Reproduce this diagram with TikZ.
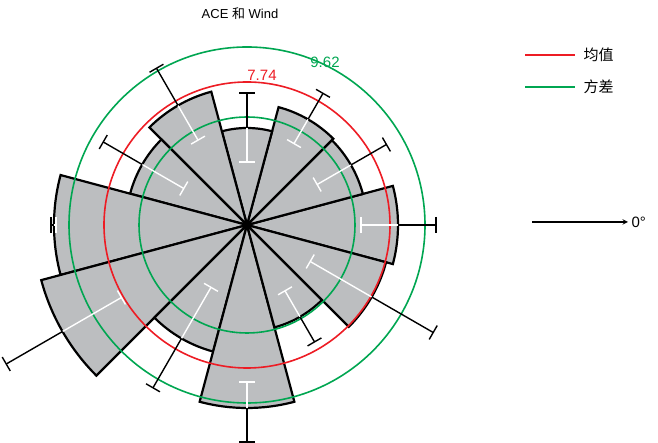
\documentclass[tikz,border=0pt]{standalone}
\usepackage{fontspec}
\setmainfont{Liberation Sans}
\newfontfamily\cjk{Noto Sans CJK SC}
\usetikzlibrary{calc}
\definecolor{meanred}{HTML}{ED1C24}
\definecolor{stdgreen}{HTML}{00A651}
\definecolor{barfill}{HTML}{BCBEC0}
\begin{document}
\begin{tikzpicture}[x=1pt,y=1pt,>=stealth,
  wedge/.style={fill=barfill,draw=black,line width=2.2pt,line join=miter},
  ring/.style={line width=1.6pt},
  errbar/.style={line width=1.4pt}]
\useasboundingbox (0,0) rectangle (658,443);
\node (title) at (240,429) {\fontsize{13}{15}\selectfont ACE \cjk 和\rmfamily{} Wind};
% wedges
\begin{scope}[shift={(247,218)}]
\foreach \a/\r in {0/151,30/120,60/122,90/97,120/138,150/121,180/193,210/213,240/131,270/183,300/106,330/144}
  \draw[wedge] (0,0) -- (\a-15:\r) arc[start angle=\a-15,end angle=\a+15,radius=\r] -- cycle;
\draw[ring,stdgreen] (0,0) circle[radius=108];
\draw[ring,meanred] (0,0) circle[radius=143];
\draw[ring,stdgreen] (0,0) circle[radius=178];
% error bars
\foreach \a/\r/\i/\o in {0/151/114/189,30/120/81/161,60/122/94/152,90/97/63/132,120/138/98/181,150/121/73/166,180/193/191/196,210/213/145/278,240/131/72/188,270/183/157/217,300/106/76/135,330/144/73/215}{
  \draw[errbar,white] (\a:\i) -- (\a:\r);
  \draw[errbar,white] ($(\a:\i)+(\a+90:8)$) -- ($(\a:\i)+(\a-90:8)$);
  \draw[errbar,black] (\a:\r) -- (\a:\o);
  \draw[errbar,black] ($(\a:\o)+(\a+90:8)$) -- ($(\a:\o)+(\a-90:8)$);
}
\end{scope}
\node[meanred] (meanval) at (262,368) {\fontsize{15}{17}\selectfont 7.74};
\node[stdgreen] (stdval) at (325,381) {\fontsize{15}{17}\selectfont 9.62};
% legend
\coordinate (m1) at (525,388);
\coordinate (m2) at (575,388);
\coordinate (s1) at (525,356);
\coordinate (s2) at (575,356);
\draw[ring,meanred] (m1) -- (m2);
\draw[ring,stdgreen] (s1) -- (s2);
\node[anchor=west] (meanlbl) at (580,388) {\fontsize{15}{17}\selectfont\cjk 均值};
\node[anchor=west] (stdlbl) at (580,356) {\fontsize{15}{17}\selectfont\cjk 方差};
% direction
\coordinate (d1) at (532,221);
\node[anchor=west] (zero) at (628,221) {\fontsize{15}{17}\selectfont 0°};
\draw[->,line width=1.4pt] (d1) -- (zero.west);
\end{tikzpicture}
\end{document}
